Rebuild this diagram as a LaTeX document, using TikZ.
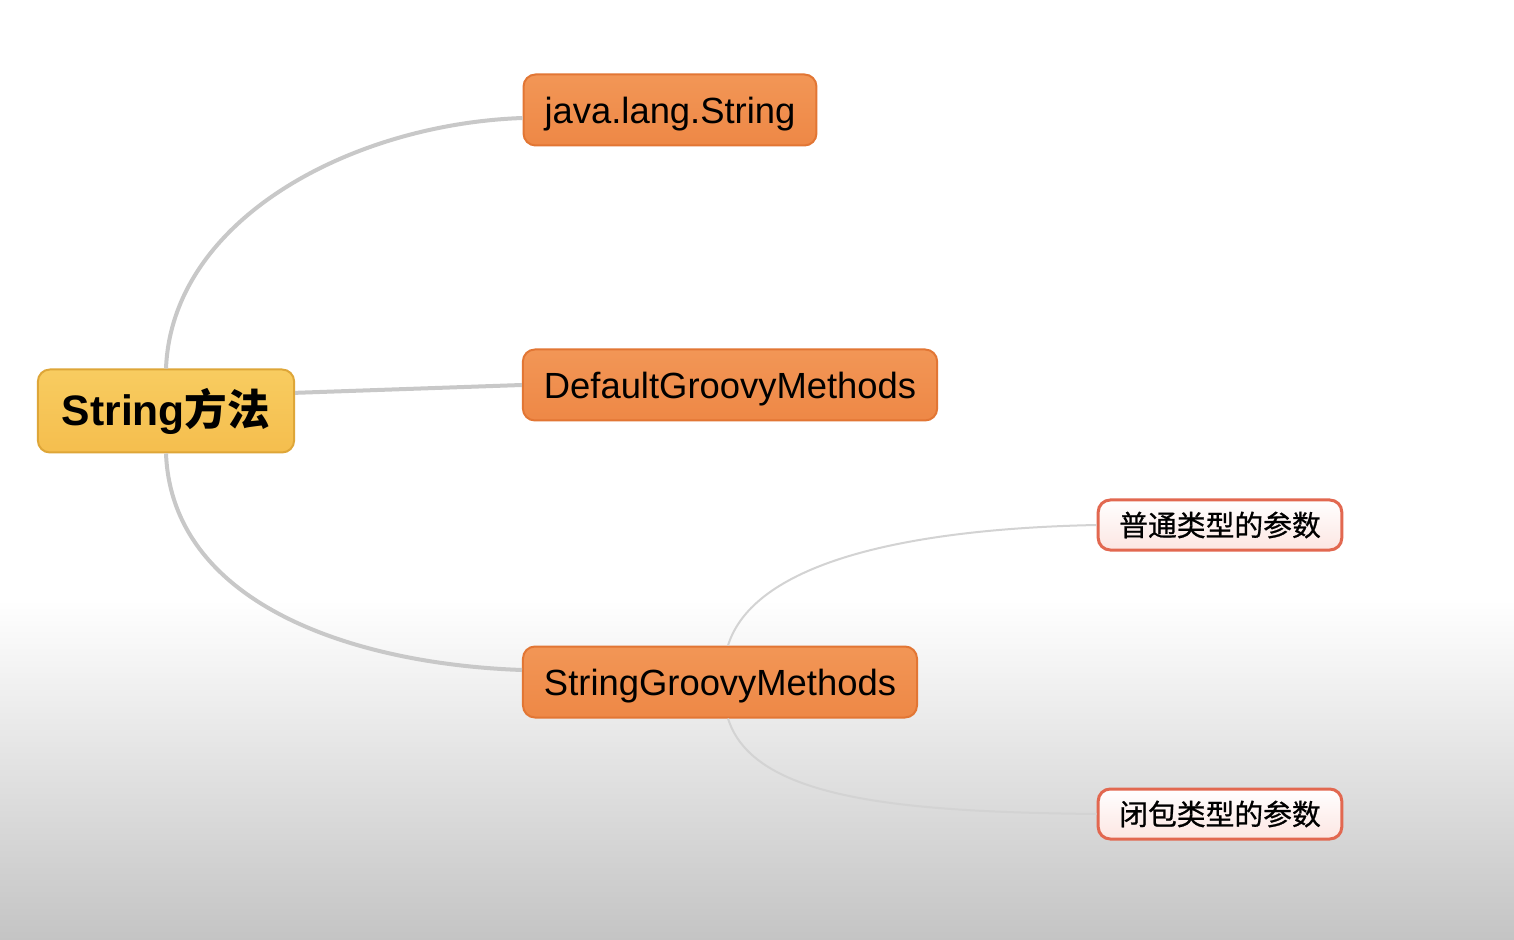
\documentclass[tikz,border=0pt]{standalone}
\usepackage{fontspec}
\setmainfont{Liberation Sans}
\newfontfamily\cjk{Noto Sans CJK SC}
\newfontfamily\cjkleaf{Noto Sans CJK SC}[FakeBold=0.8]
\definecolor{rootfill}{RGB}{245,190,78}
\definecolor{roottop}{RGB}{248,204,96}
\definecolor{rootline}{RGB}{222,166,56}
\definecolor{orfill}{RGB}{238,136,70}
\definecolor{ortop}{RGB}{242,150,86}
\definecolor{orline}{RGB}{226,118,52}
\definecolor{pkline}{RGB}{226,104,80}
\definecolor{pkfill}{RGB}{252,230,226}
\definecolor{branch}{RGB}{200,200,200}
\definecolor{bggray}{RGB}{196,196,196}

\begin{document}
\begin{tikzpicture}
  [x=0.5pt,y=-0.5pt,
   rootbox/.style={rectangle,rounded corners=6pt,draw=rootline,line width=1pt,
     top color=roottop,bottom color=rootfill,inner xsep=12pt,minimum height=41.5pt,
     font=\fontsize{21.3}{25}\selectfont\bfseries},
   mainbox/.style={rectangle,rounded corners=6pt,draw=orline,line width=1pt,
     top color=ortop,bottom color=orfill,inner xsep=10.5pt,minimum height=35.5pt,
     text depth=0pt,font=\fontsize{18.2}{22}\selectfont},
   leafbox/.style={rectangle,rounded corners=6pt,draw=pkline,line width=1.5pt,
     top color=white,bottom color=pkfill,inner xsep=10.5pt,minimum height=25pt,
     font=\fontsize{14.4}{17}\selectfont\cjkleaf}]
  % background
  \fill[white] (0,0) rectangle (1514,940);
  \shade[top color=white,bottom color=bggray] (0,600) rectangle (1514,940);

  \node[rootbox] (R) at (166,411) {String{\cjk\bfseries 方法}};
  \node[mainbox] (B_1) at (670,110) {java.lang.String};
  \node[mainbox] (B_2) at (730,385) {DefaultGroovyMethods};
  \node[mainbox] (B_3) at (720,682) {StringGroovyMethods};
  \node[leafbox] (L_1) at (1220,525) {普通类型的参数};
  \node[leafbox] (L_2) at (1220,814) {闭包类型的参数};

  \begin{scope}[draw=branch,line width=2pt]
    \draw (R.north) .. controls +(6,-150) and +(-170,6) .. ([yshift=-4pt]B_1.west);
    \draw (R.8) -- (B_2.west);
    \draw (R.south) .. controls +(6,150) and +(-170,-6) .. ([yshift=6pt]B_3.west);
  \end{scope}
  \begin{scope}[draw=branch!80,line width=1pt]
    \draw ([xshift=4pt]B_3.north) .. controls +(25,-80) and +(-200,4) .. (L_1.west);
    \draw ([xshift=4pt]B_3.south) .. controls +(25,80) and +(-200,-2) .. (L_2.west);
  \end{scope}

\end{tikzpicture}
\end{document}
